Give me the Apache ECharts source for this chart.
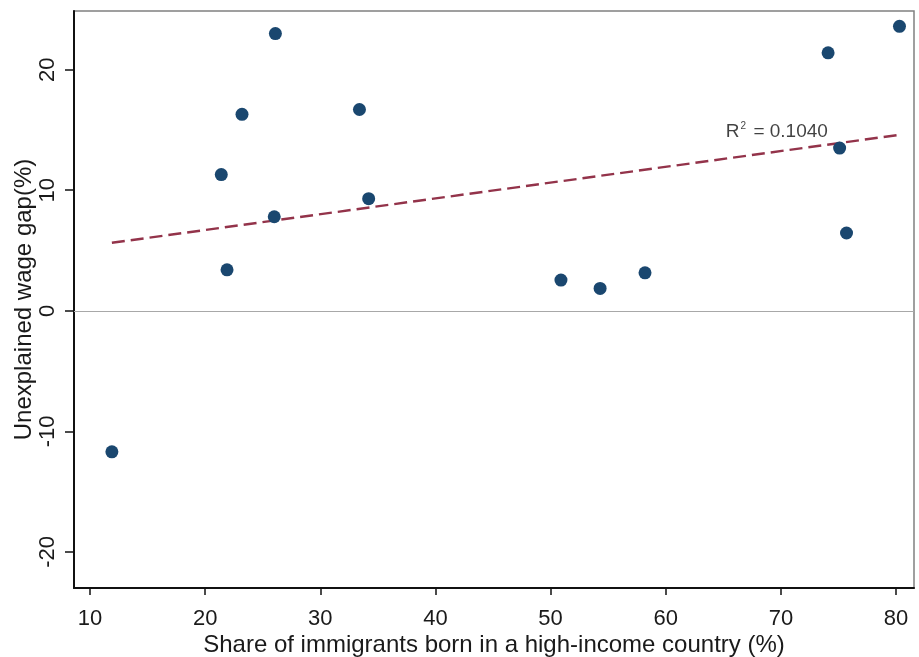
<!DOCTYPE html>
<html>
<head>
<meta charset="utf-8">
<script src="https://cdn.jsdelivr.net/npm/echarts@6/dist/echarts.min.js"></script>
<style>
html,body{margin:0;padding:0;background:#fff;}
#c{width:919px;height:657px;}
</style>
</head>
<body>
<div id="c"></div>
<script>
// Data
const shareHighIncome = [11.9, 26.1, 23.2, 21.4, 26.0, 21.9, 33.4, 34.2, 50.9, 54.3, 58.2, 74.1, 80.3, 75.1, 75.7];
const wageGap        = [-11.7, 23.0, 16.3, 11.3, 7.8, 3.4, 16.7, 9.3, 2.55, 1.85, 3.15, 21.4, 23.6, 13.5, 6.45];
const fitX = [11.9, 80.3];
const fitY = [5.64, 14.6];
const xTicks = [10, 20, 30, 40, 50, 60, 70, 80];
const yTicks = [-20, -10, 0, 10, 20];
const r2Text = '0.1040';
const xTitle = 'Share of immigrants born in a high-income country (%)';
const yTitle = 'Unexplained wage gap(%)';

const FONT = '"Liberation Sans", Arial, sans-serif';
const chart = echarts.init(document.getElementById('c'), null, {renderer: 'canvas'});

const points = shareHighIncome.map((x, i) => [x, wageGap[i]]);
const fitLine = fitX.map((x, i) => [x, fitY[i]]);

chart.setOption({
  backgroundColor: '#ffffff',
  animation: false,
  grid: {left: 74, top: 11, right: 5, bottom: 69, containLabel: false, outerBoundsMode: 'none',
         show: true, borderColor: '#808080', borderWidth: 1.5, backgroundColor: '#ffffff'},
  xAxis: {
    type: 'value', min: 8.61, max: 81.56,
    name: xTitle, nameLocation: 'middle', nameGap: 45, nameMoveOverlap: false,
    nameTextStyle: {fontFamily: FONT, fontSize: 24, color: '#1a1a1a'},
    axisLine: {show: true, onZero: false, lineStyle: {color: '#111', width: 2}},
    axisTick: {show: true, length: 7, customValues: xTicks, lineStyle: {color: '#111', width: 1.5}},
    axisLabel: {customValues: xTicks, fontFamily: FONT, fontSize: 22, color: '#1a1a1a', margin: 20},
    splitLine: {show: false}
  },
  yAxis: {
    type: 'value', min: -23.0, max: 24.87,
    name: yTitle, nameLocation: 'middle', nameGap: 38, nameRotate: 90, nameMoveOverlap: false,
    nameTextStyle: {fontFamily: FONT, fontSize: 24, color: '#1a1a1a'},
    axisLine: {show: true, onZero: false, lineStyle: {color: '#111', width: 2}},
    axisTick: {show: true, length: 9, customValues: yTicks, lineStyle: {color: '#111', width: 1.5}},
    axisLabel: {customValues: yTicks, rotate: 90, fontFamily: FONT, fontSize: 22, color: '#1a1a1a', margin: 15},
    splitLine: {show: false}
  },
  series: [
    {
      type: 'line', data: fitLine, showSymbol: false, symbol: 'none', z: 2,
      lineStyle: {color: '#93334a', width: 2.4, type: [13, 6]},
      markLine: {
        silent: true, symbol: 'none', label: {show: false},
        lineStyle: {color: '#a8a8a8', width: 1, type: 'solid'},
        data: [{yAxis: 0}]
      }
    },
    {
      type: 'scatter', data: points, symbol: 'circle', symbolSize: 13, z: 3,
      itemStyle: {color: '#1a476f', opacity: 1}
    },
    {
      type: 'scatter', data: [[69.65, 14.85]], symbolSize: 1, z: 4, silent: true,
      itemStyle: {color: 'rgba(0,0,0,0)'},
      label: {
        show: true, position: 'inside', color: '#111', textBorderWidth: 0,
        formatter: '{r|R}{s|2}{r| = ' + r2Text + '}',
        rich: {
          r: {fontFamily: FONT, fontSize: 19, color: '#111', lineHeight: 22, textBorderWidth: 0},
          s: {fontFamily: FONT, fontSize: 10, color: '#111', verticalAlign: 'top', lineHeight: 22, padding: [0, 2, 8, 1], textBorderWidth: 0}
        }
      }
    }
  ]
});
</script>
</body>
</html>
